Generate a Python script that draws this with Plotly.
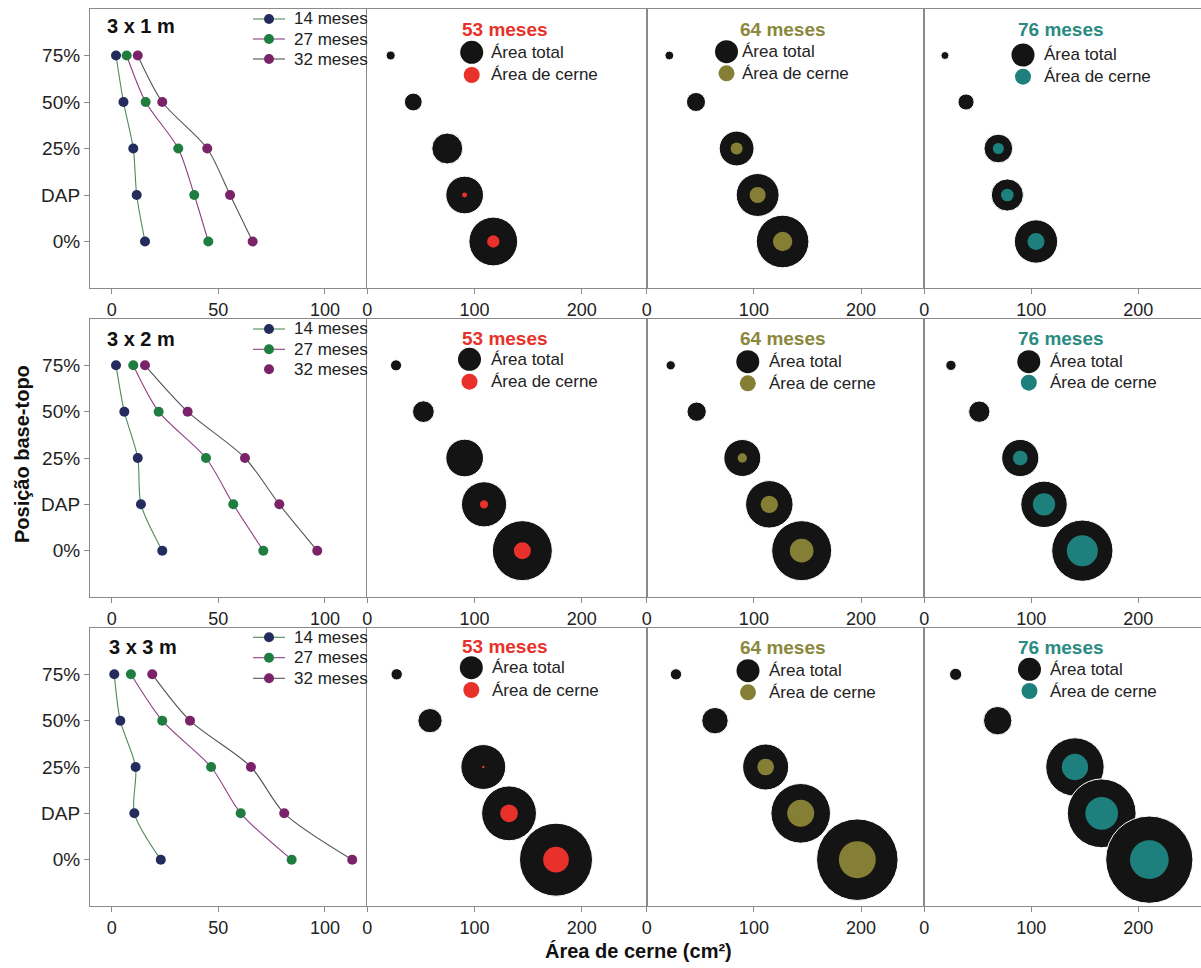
import plotly.graph_objects as go
from plotly.subplots import make_subplots

W, H = 1201, 968

# ---------------- data ----------------
positions = ["75%", "50%", "25%", "DAP", "0%"]          # top -> bottom
axis_order = ["0%", "DAP", "25%", "50%", "75%"]         # bottom -> top
spacings = ["3 x 1 m", "3 x 2 m", "3 x 3 m"]
young_ages = ["14 meses", "27 meses", "32 meses"]
old_ages = ["53 meses", "64 meses", "76 meses"]
bubble_legend = ["Área total", "Área de cerne"]

# heartwood area (cm²), young ages, order = positions
s1_m14 = [2.0, 5.5, 10.1, 11.7, 15.6]
s1_m27 = [7.0, 15.9, 31.2, 38.7, 45.3]
s1_m32 = [12.2, 23.7, 44.8, 55.5, 66.1]
s2_m14 = [2.0, 5.9, 12.2, 13.7, 23.7]
s2_m27 = [10.1, 22.0, 44.2, 57.0, 71.1]
s2_m32 = [15.6, 35.6, 62.5, 78.6, 96.4]
s3_m14 = [1.2, 4.0, 11.2, 10.6, 23.0]
s3_m27 = [9.0, 23.7, 46.6, 60.5, 84.4]
s3_m32 = [19.0, 36.7, 65.3, 80.9, 112.8]

# total area and heartwood area (cm²), older ages, order = positions
s1_m53_total = [21.8, 42.9, 74.6, 90.8, 117.5]
s1_m53_cerne = [0, 0, 0, 12.0, 29.7]
s1_m64_total = [21.1, 46.0, 83.9, 103.5, 126.8]
s1_m64_cerne = [0, 0, 28.9, 38.6, 46.6]
s1_m76_total = [19.3, 39.0, 69.2, 77.6, 104.4]
s1_m76_cerne = [0, 0, 26.5, 30.5, 41.0]
s2_m53_total = [26.8, 52.3, 90.8, 108.9, 144.6]
s2_m53_cerne = [0, 0, 0, 20.0, 41.0]
s2_m64_total = [22.4, 46.6, 89.2, 114.4, 144.6]
s2_m64_cerne = [0, 0, 22.5, 41.8, 57.0]
s2_m76_total = [24.9, 51.4, 89.7, 111.9, 147.7]
s2_m76_cerne = [0, 0, 35.3, 53.8, 74.7]
s3_m53_total = [27.4, 58.5, 108.2, 132.2, 176.0]
s3_m53_cerne = [0, 0, 6.0, 42.6, 62.0]
s3_m64_total = [27.3, 63.7, 111.0, 143.7, 196.5]
s3_m64_cerne = [0, 0, 40.2, 65.0, 89.0]
s3_m76_total = [29.3, 68.6, 140.8, 165.8, 210.3]
s3_m76_cerne = [0, 0, 63.5, 78.7, 93.2]

young = [[s1_m14, s1_m27, s1_m32], [s2_m14, s2_m27, s2_m32], [s3_m14, s3_m27, s3_m32]]
old_total = [[s1_m53_total, s1_m64_total, s1_m76_total],
             [s2_m53_total, s2_m64_total, s2_m76_total],
             [s3_m53_total, s3_m64_total, s3_m76_total]]
old_cerne = [[s1_m53_cerne, s1_m64_cerne, s1_m76_cerne],
             [s2_m53_cerne, s2_m64_cerne, s2_m76_cerne],
             [s3_m53_cerne, s3_m64_cerne, s3_m76_cerne]]

# ---------------- styles ----------------
FONT = "Liberation Sans, Arial, sans-serif"
young_marker = ["#232c5c", "#1f7d40", "#7b2368"]
young_line = ["#4a8c5a", "#8c3f82", "#555555"]
old_fill = ["#e8312b", "#857f36", "#1e807c"]
old_title = ["#e8312b", "#8a883c", "#2b8a82"]
BLACK = "#141414"
FRAME = "#8a8a8a"
SIZE_REF = 2.41  # value units per pixel of diameter

col_px = [(90, 368), (367.3, 646.7), (646.7, 924.3), (924.3, 1201)]
row_px = [(9, 288), (319, 597), (628, 906)]
x_ranges = [[-10.2, 120.2], [0, 260.6], [0, 259], [0, 258.6]]


def px(x):
    return x / W


def py(y):
    return 1 - y / H


fig = make_subplots(rows=3, cols=4)

for r in range(3):
    # line panel
    for k in range(3):
        fig.add_trace(go.Scatter(
            x=young[r][k], y=positions, mode="lines+markers",
            line=dict(color=young_line[k], width=1.1, shape="spline", smoothing=0.8),
            marker=dict(color=young_marker[k], size=10, opacity=1),
            name=young_ages[k], showlegend=False), row=r + 1, col=1)
    # bubble panels
    for c in range(3):
        fig.add_trace(go.Scatter(
            x=old_total[r][c], y=positions, mode="markers",
            marker=dict(color=BLACK, size=old_total[r][c], sizemode="diameter",
                        sizeref=SIZE_REF, opacity=1, line=dict(color="white", width=1)),
            name=bubble_legend[0], showlegend=False), row=r + 1, col=c + 2)
        fig.add_trace(go.Scatter(
            x=old_total[r][c], y=positions, mode="markers",
            marker=dict(color=old_fill[c], size=old_cerne[r][c], sizemode="diameter",
                        sizeref=SIZE_REF, opacity=1, line=dict(width=0)),
            name=bubble_legend[1], showlegend=False), row=r + 1, col=c + 2)

# axes
for r in range(3):
    for c in range(4):
        n = r * 4 + c + 1
        sfx = "" if n == 1 else str(n)
        xd = [px(col_px[c][0]), px(col_px[c][1])]
        yd = [py(row_px[r][1]), py(row_px[r][0])]
        fig.layout["xaxis" + sfx].update(
            domain=xd, range=x_ranges[c], showgrid=False, zeroline=False,
            showline=True, mirror=True, linecolor=FRAME, linewidth=1.2,
            ticks="outside", ticklen=5, tickcolor=FRAME, automargin=False,
            tickvals=[0, 50, 100] if c == 0 else [0, 100, 200],
            tickfont=dict(family=FONT, size=18, color="#222"))
        fig.layout["yaxis" + sfx].update(
            domain=yd, type="category", categoryorder="array", categoryarray=axis_order,
            range=[-1, 5], showgrid=False, zeroline=False, automargin=False,
            showline=True, mirror=True, linecolor=FRAME, linewidth=1.2,
            ticks="outside" if c == 0 else "", ticklen=5, tickcolor=FRAME,
            showticklabels=(c == 0),
            tickfont=dict(family=FONT, size=19, color="#222"))

shapes = []
annotations = []


def circle(x, y, d, color):
    shapes.append(dict(type="circle", xref="paper", yref="paper",
                       xsizemode="pixel", ysizemode="pixel",
                       xanchor=px(x), yanchor=py(y),
                       x0=-d / 2, x1=d / 2, y0=-d / 2, y1=d / 2,
                       fillcolor=color, line=dict(width=0), layer="above"))


def text(x, y, s, size, color="#222", bold=False, xanchor="left", angle=0):
    annotations.append(dict(x=px(x), y=py(y), xref="paper", yref="paper",
                            text=("<b>%s</b>" % s) if bold else s, showarrow=False,
                            xanchor=xanchor, yanchor="middle", textangle=angle,
                            font=dict(family=FONT, size=size, color=color)))


# panel labels
label_pos = [(105, 26.5), (104.5, 339), (106.5, 647)]
for r in range(3):
    text(label_pos[r][0], label_pos[r][1], spacings[r], 20, "#111", bold=True)

# young legends
young_leg_y = [[19, 39, 59], [329, 349.3, 369.3], [637.3, 657.7, 678.3]]
for r in range(3):
    for k in range(3):
        y = young_leg_y[r][k]
        if not (r == 1 and k == 2):
            shapes.append(dict(type="line", xref="paper", yref="paper",
                               x0=px(253), x1=px(285), y0=py(y), y1=py(y),
                               line=dict(color=young_line[k], width=1.1), layer="above"))
        circle(269, y, 10, young_marker[k])
        text(292, y, young_ages[k], 17)

# old legends: (title centre x, title y, symbol x, black y, cerne y, text x)
old_leg = [
    [(505, 29.3, 471.7, 52.3, 75, 489.3), (783.3, 29.3, 726.5, 51.7, 73.3, 740), (1061, 29.3, 1023, 55, 76.7, 1041.7)],
    [(505, 338.3, 469.5, 359.3, 381.7, 489.3), (783.3, 338.3, 747.8, 361.7, 383.3, 766.7), (1061, 338.3, 1028.8, 361.7, 382.7, 1047.7)],
    [(505, 646.7, 471.3, 667.7, 690, 490), (783.3, 647.3, 748, 670.7, 692.3, 766.7), (1061.3, 647.3, 1029.5, 669.3, 691, 1048.3)],
]
for r in range(3):
    for c in range(3):
        tx, ty, sx, by, cy, lx = old_leg[r][c]
        text(tx, ty, old_ages[c], 19, old_title[c], bold=True, xanchor="center")
        circle(sx, by, 23, BLACK)
        circle(sx, cy, 16, old_fill[c])
        text(lx, by, bubble_legend[0], 17)
        text(lx, cy, bubble_legend[1], 17)

# axis titles
text(22, 454, "Posição base-topo", 20, "#111", bold=True, xanchor="center", angle=-90)
text(638, 951, "Área de cerne (cm²)", 20, "#111", bold=True, xanchor="center")

fig.update_layout(
    width=W, height=H, margin=dict(l=0, r=0, t=0, b=0, pad=0, autoexpand=False),
    paper_bgcolor="white", plot_bgcolor="white",
    showlegend=False, shapes=shapes, annotations=annotations,
    font=dict(family=FONT, color="#222"))

fig.write_html("out.html", config={"displayModeBar": False},
               post_script="document.body.style.margin='0';document.body.style.overflow='hidden';")
